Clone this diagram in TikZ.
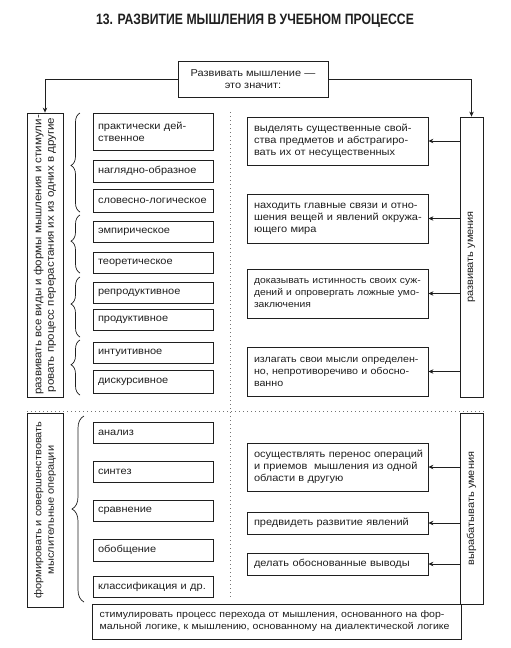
\documentclass[tikz,border=0pt]{standalone}
\usepackage{fontspec}
\usepackage{graphicx}
\setmainfont[FakeStretch=1.1]{Liberation Sans}
\newfontfamily\titlefont{Liberation Sans}
\usetikzlibrary{arrows.meta,decorations.pathreplacing}
\definecolor{ink}{gray}{0.12}
\newcommand\jl[1]{\makebox[\hsize][s]{#1}}
\tikzset{
  box/.style={draw=ink, line width=0.8pt, inner ysep=0pt, text=ink},
  lbox/.style={box, inner xsep=5pt, text width=110pt, align=left, minimum height=21pt,
     font=\fontsize{10}{12}\selectfont},
  rbox/.style={box, inner xsep=7pt, text width=167pt, align=left,
     font=\fontsize{10}{12}\selectfont},
  vbox/.style={box, inner sep=0pt},
  vtext/.style={rotate=90, align=center, text=ink, inner sep=0pt},
  arr/.style={draw=ink, line width=0.7pt, -{Stealth[length=5pt,width=4.5pt]}},
  dots/.style={draw=black!55, line width=0.9pt, dash pattern=on 0.8pt off 3.2pt},
  brc/.style={draw=ink, line width=0.7pt, decorate, decoration={brace, amplitude=9pt}},
}
\begin{document}
\begin{tikzpicture}[x=1pt,y=-1pt]
\useasboundingbox (0,0) rectangle (511,648);

% title
\node[text=ink] (title) at (255,20.5) {\scalebox{0.815}[1]{\titlefont\fontsize{15}{18}\selectfont\bfseries 13. РАЗВИТИЕ МЫШЛЕНИЯ В УЧЕБНОМ ПРОЦЕССЕ}};

% top box
\node[box, minimum width=150pt, minimum height=36pt, align=center,
      font=\fontsize{10}{12}\selectfont] (TB) at (253,79) {Развивать мышление —\\это значит:};

% left tall boxes
\node[vbox, minimum width=36pt, minimum height=284pt] (L1) at (45,255) {};
\node[vtext, font=\fontsize{10.5}{12.5}\selectfont] (L1t) at (L1.center)
  {развивать все виды и формы мышления и стимули-\\ровать процесс перерастания их из одних в другие};
\node[vbox, minimum width=36pt, minimum height=194pt] (L2) at (45,510) {};
\node[vtext, font=\fontsize{10}{12.5}\selectfont] (L2t) at (L2.center)
  {формировать и совершенствовать\\мыслительные операции};

% right tall boxes
\node[vbox, minimum width=23pt, minimum height=280pt] (R1) at (471.5,257) {};
\node[vtext, font=\fontsize{10}{12}\selectfont] (R1t) at (R1.center) {развивать умения};
\node[vbox, minimum width=23pt, minimum height=191pt] (R2) at (471.5,508.5) {};
\node[vtext, font=\fontsize{10}{12}\selectfont] (R2t) at (R2.center) {вырабатывать умения};

% left small boxes (upper)
\node[lbox, minimum height=37pt] (S1) at (153,131.5) {практически дей-\\ственное};
\node[lbox, minimum height=22pt] (S2) at (153,171) {\mbox{наглядно-образное}};
\node[lbox, minimum height=23pt] (S3) at (153,200.5) {\mbox{словесно-логическое}};
\node[lbox] (S4) at (153,232) {эмпирическое};
\node[lbox] (S5) at (153,262.5) {теоретическое};
\node[lbox] (S6) at (153,292.5) {репродуктивное};
\node[lbox] (S7) at (153,320) {продуктивное};
\node[lbox] (S8) at (153,352.5) {интуитивное};
\node[lbox, minimum height=23pt] (S9) at (153,381.5) {дискурсивное};

% left small boxes (lower)
\node[lbox] (T1) at (153,432.5) {анализ};
\node[lbox] (T2) at (153,471.5) {синтез};
\node[lbox] (T3) at (153,510.5) {сравнение};
\node[lbox, minimum height=22pt] (T4) at (153,550) {обобщение};
\node[lbox] (T5) at (153,586.5) {классификация и др.};

% braces
\draw[brc, decoration={aspect=0.47}] (80,212) -- (80,113);
\draw[brc, decoration={aspect=0.55}] (80,273) -- (80,215);
\draw[brc, decoration={aspect=0.55}] (80,337) -- (80,277);
\draw[brc, decoration={aspect=0.55}] (80,395) -- (80,340);
\draw[brc, decoration={aspect=0.5, amplitude=12pt}] (84,602) -- (84,416);

% right boxes (upper)
\node[rbox, minimum height=48pt] (A) at (337.5,141)
  {\jl{выделять существенные свой-}\\\jl{ства предметов и абстрагиро-}\\вать их от несущественных};
\node[rbox, minimum height=49pt] (B) at (337.5,218.5)
  {\jl{находить главные связи и отно-}\\\jl{шения вещей и явлений окружа-}\\ющего мира};
\node[rbox, minimum height=49pt, font=\fontsize{9.4}{12}\selectfont] (C) at (337.5,293.5)
  {\jl{доказывать истинность своих суж-}\\\jl{дений и опровергать ложные умо-}\\заключения};
\node[rbox, minimum height=49pt, font=\fontsize{9.7}{12}\selectfont] (D) at (337.5,371.5)
  {\jl{излагать свои мысли определен-}\\\jl{но, непротиворечиво и обосно-}\\ванно};

% right boxes (lower)
\node[rbox, minimum height=48pt] (E) at (337.5,467)
  {\jl{осуществлять перенос операций}\\\jl{и приемов \ мышления из одной}\\области в другую};
\node[rbox, minimum height=22pt] (F) at (337.5,523) {предвидеть развитие явлений};
\node[rbox, minimum height=22pt] (G) at (337.5,564) {делать обоснованные выводы};

% bottom box
\node[box, minimum width=369pt, minimum height=35pt, inner xsep=7.5pt, text width=354pt,
      align=left, font=\fontsize{9.6}{12}\selectfont] (BB) at (276.5,621.5)
  {стимулировать процесс перехода от мышления, основанного на фор-\\мальной логике, к мышлению, основанному на диалектической логике};

% dotted separators
\coordinate (v1) at (230,112);
\coordinate (v2) at (230,598);
\coordinate (h1) at (27,411);
\coordinate (h2) at (484,411);
\draw[dots] (v1) -- (v2);
\draw[dots] (h1) -- (h2);

% connectors from top box
\draw[arr] (TB.west) -| (L1.north);
\draw[arr] (TB.east) -| (R1.north);

% arrows from right tall boxes
\foreach \n in {A,B,C,D} { \draw[arr] (R1.west |- \n.east) -- (\n.east); }
\foreach \n in {E,F,G} { \draw[arr] (R2.west |- \n.east) -- (\n.east); }
\end{tikzpicture}
\end{document}
